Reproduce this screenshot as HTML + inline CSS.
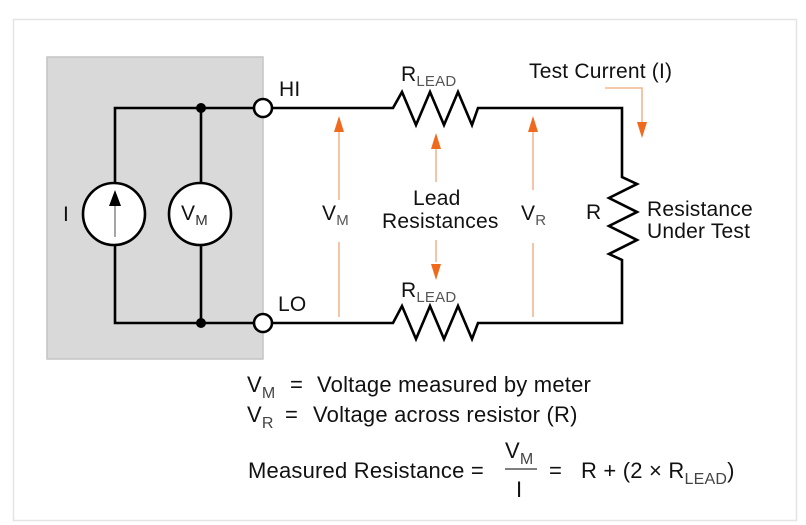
<!DOCTYPE html>
<html><head><style>
body{margin:0;background:#fff;}
svg{display:block;font-family:"Liberation Sans",Arial,sans-serif;}
text{white-space:pre;}
</style></head><body>
<svg width="806" height="525" viewBox="0 0 806 525">
<rect x="13.5" y="19.5" width="783" height="501" fill="#fff" stroke="#e4e4e4" stroke-width="1.5"/>
<rect x="47" y="57" width="216" height="302" fill="#d9d9d9" stroke="#c4c4c4" stroke-width="1.5"/>
<g stroke="#000" stroke-width="2.6" fill="none">
<polyline points="254,108 115,108 115,183"/>
<polyline points="254,323 115,323 115,245"/>
<line x1="201" y1="108" x2="201" y2="183"/>
<line x1="201" y1="323" x2="201" y2="245"/>
<polyline points="272,108 393,108 402,92 416,125 430,92 444,125 458,92 472,125 478,108 622,108 622,177 637,184 609,198 637,212 609,226 637,240 609,254 622,260 622,323 478,323 472,339 458,306 444,339 430,306 416,339 402,306 393,323 272,323"/>
</g>
<circle cx="114" cy="214" r="31" fill="#fff" stroke="#000" stroke-width="2.6"/>
<circle cx="200" cy="214" r="31" fill="#fff" stroke="#000" stroke-width="2.6"/>
<line x1="115" y1="237" x2="115" y2="205" stroke="#888" stroke-width="1.5"/>
<polygon points="115,190 109,206 121,206" fill="#000"/>
<circle cx="201" cy="108" r="5" fill="#000"/>
<circle cx="201" cy="323" r="5" fill="#000"/>
<circle cx="263" cy="108" r="9" fill="#fff" stroke="#000" stroke-width="2.6"/>
<circle cx="263" cy="323" r="9" fill="#fff" stroke="#000" stroke-width="2.6"/>
<g stroke="#f3b591" stroke-width="1.6" fill="none">
<line x1="339" y1="128" x2="339" y2="200"/><line x1="339" y1="242" x2="339" y2="317"/>
<line x1="436" y1="145" x2="436" y2="182"/><line x1="436" y1="240" x2="436" y2="262"/>
<line x1="533" y1="128" x2="533" y2="190"/><line x1="533" y1="243" x2="533" y2="317"/>
<polyline points="605,88 642,88 642,122"/>
</g>
<g fill="#f06a1e">
<polygon points="339,116 334,132 344,132"/>
<polygon points="436,133 431,149 441,149"/>
<polygon points="436,280 431,264 441,264"/>
<polygon points="533,116 528,132 538,132"/>
<polygon points="642,138 637,122 647,122"/>
</g>
<g font-size="21" fill="#111" letter-spacing="0.2">
<text x="279" y="96">HI</text>
<text x="278" y="311">LO</text>
<text x="63" y="221">I</text>
<text x="181" y="220">V<tspan font-size="15" dy="5" fill="#333">M</tspan></text>
<text x="322" y="220">V<tspan font-size="15" dy="5" fill="#555">M</tspan></text>
<text x="521" y="220">V<tspan font-size="15" dy="5" fill="#555">R</tspan></text>
<text x="401" y="81">R<tspan font-size="15" dy="5" fill="#555">LEAD</tspan></text>
<text x="401" y="297">R<tspan font-size="15" dy="5" fill="#555">LEAD</tspan></text>
<text x="413" y="205">Lead</text>
<text x="382" y="228">Resistances</text>
<text x="529" y="78">Test Current (I)</text>
<text x="586" y="219">R</text>
<text x="647" y="216">Resistance</text>
<text x="647" y="238">Under Test</text>
</g>
<g font-size="22" fill="#111" letter-spacing="0.2">
<text x="247" y="392">V<tspan font-size="16" dy="6" fill="#444">M</tspan></text>
<text x="290" y="392">=</text>
<text x="317" y="392">Voltage measured by meter</text>
<text x="247" y="422">V<tspan font-size="16" dy="6" fill="#444">R</tspan></text>
<text x="285" y="422">=</text>
<text x="313" y="422">Voltage across resistor (R)</text>
<text x="248" y="478">Measured Resistance =</text>
<text x="505" y="458">V<tspan font-size="16" dy="6" fill="#444">M</tspan></text>
<text x="516" y="497">I</text>
<text x="549" y="478">=</text>
<text x="581" y="478">R + (2 × R<tspan font-size="16" dy="6" fill="#444">LEAD</tspan><tspan dy="-6">)</tspan></text>
</g>
<line x1="505" y1="469" x2="537" y2="469" stroke="#333" stroke-width="1.2"/>
</svg>
</body></html>
